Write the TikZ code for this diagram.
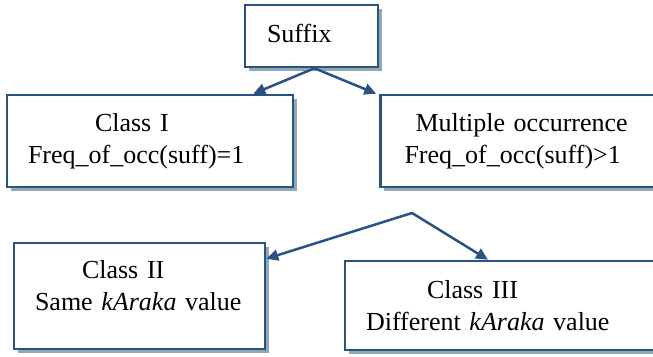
\documentclass[tikz,border=0pt]{standalone}
\usepackage{fontspec}
\setmainfont{Liberation Serif}
\usetikzlibrary{arrows.meta, positioning, shadows}
\definecolor{boxblue}{HTML}{2A5285}
\definecolor{shadowgray}{HTML}{8FA9B4}

\begin{document}
\begin{tikzpicture}[
    x=1pt, y=-1pt,
    font=\fontsize{26}{32}\selectfont,
    box/.style={rectangle, draw=boxblue, fill=white, line width=2.5pt,
                align=left, inner xsep=21pt, inner ysep=0pt,
                drop shadow={shadow xshift=3.5pt, shadow yshift=-3.5pt,
                             fill=shadowgray, opacity=1}},
    arrow/.style={-{Triangle[length=12pt, width=11pt]}, line width=2.5pt, boxblue}
]
    \clip (0,0) rectangle (653,356);

    \node[box, text width=89pt, inner xsep=22pt, minimum height=62pt]
        (suffix) at (311.5,36) {Suffix\rule[-6pt]{0pt}{6pt}};
    \node[box, text width=244pt, minimum height=92pt] (class1) at (150,141)
        {\hspace*{67pt}Class I\\Freq\_of\_occ(suff)=1};
    \node[box, text width=239pt, inner xsep=24pt, minimum height=92pt,
          right=85pt of class1] (multi)
        {\hspace*{11pt}Multiple occurrence\\Freq\_of\_occ(suff)>1};
    \node[box, text width=209pt, minimum height=106pt] (class2) at (139.5,296)
        {\hspace*{47pt}Class II\\Same \textit{kAraka} value\rule[-22pt]{0pt}{22pt}};
    \node[box, text width=278pt, minimum height=89pt] (class3) at (505,305.5)
        {\hspace*{61pt}Class III\\Different \textit{kAraka} value};

    \coordinate (fork) at (412,213);

    \draw[arrow] ([xshift=3pt]suffix.south) -- ([xshift=-41pt]class1.north east);
    \draw[arrow] ([xshift=3pt]suffix.south) -- ([xshift=-3pt]multi.north west);
    \draw[arrow] (fork) -- ([yshift=-17pt]class2.north east);
    \draw[arrow] (fork) -- ([xshift=-17pt]class3.north);
\end{tikzpicture}
\end{document}
